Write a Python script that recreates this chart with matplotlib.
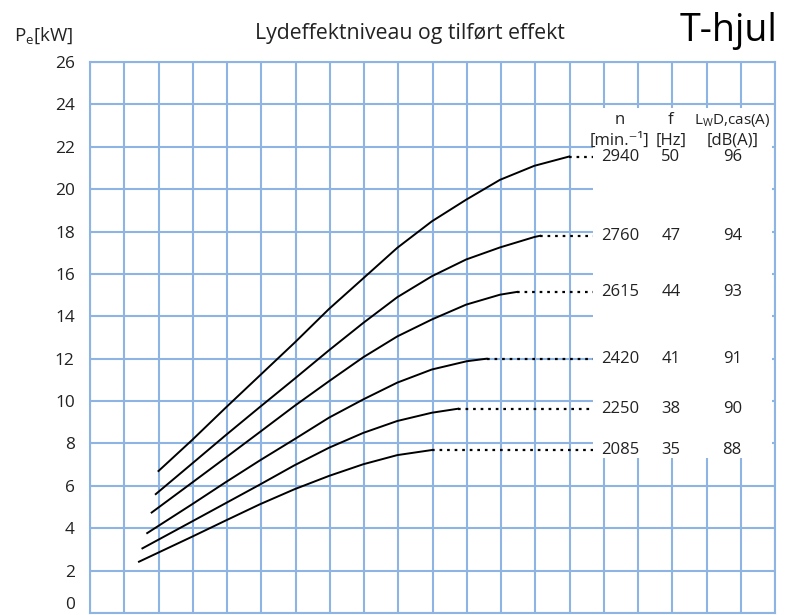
import matplotlib
matplotlib.use("Agg")
import matplotlib.pyplot as plt
from matplotlib.patches import Rectangle

plt.rcParams['font.family'] = ['Open Sans', 'DejaVu Sans']
plt.rcParams['mathtext.fontset'] = 'custom'
plt.rcParams['mathtext.rm'] = 'Open Sans'
plt.rcParams['mathtext.it'] = 'Open Sans'

# speeds, frequencies and sound power levels (table)
n_rpm = ["2940", "2760", "2615", "2420", "2250", "2085"]
f_hz = ["50", "47", "44", "41", "38", "35"]
lwd = ["96", "94", "93", "91", "90", "88"]

# curves (x in grid units, P in kW)
x_2940 = [2.00, 2.98, 3.97, 4.96, 5.97, 6.98, 7.88, 8.97, 9.98, 10.98, 11.97, 12.97, 13.99]
p_2940 = [6.70, 8.16, 9.70, 11.21, 12.75, 14.35, 15.65, 17.23, 18.48, 19.50, 20.44, 21.10, 21.54]
x_2760 = [1.92, 2.98, 3.97, 4.96, 5.97, 6.98, 7.98, 8.97, 9.98, 10.98, 11.97, 12.97, 13.14]
p_2760 = [5.61, 7.05, 8.40, 9.72, 11.05, 12.40, 13.69, 14.90, 15.89, 16.68, 17.25, 17.74, 17.80]
x_2615 = [1.80, 2.98, 3.97, 4.96, 5.97, 6.98, 7.98, 8.97, 9.98, 10.98, 11.97, 12.46]
p_2615 = [4.74, 6.15, 7.34, 8.54, 9.77, 10.94, 12.07, 13.05, 13.85, 14.55, 15.02, 15.15]
x_2420 = [1.67, 2.98, 3.97, 4.96, 5.97, 6.98, 7.98, 8.97, 9.98, 11.00, 11.58]
p_2420 = [3.77, 5.13, 6.18, 7.20, 8.20, 9.22, 10.08, 10.87, 11.49, 11.88, 12.00]
x_2250 = [1.53, 2.98, 3.97, 4.96, 5.97, 6.98, 7.98, 8.97, 9.98, 10.75]
p_2250 = [3.05, 4.32, 5.19, 6.06, 6.97, 7.80, 8.50, 9.06, 9.45, 9.64]
x_2085 = [1.43, 2.98, 3.97, 4.96, 5.97, 6.98, 7.98, 8.97, 9.98]
p_2085 = [2.42, 3.60, 4.37, 5.13, 5.84, 6.47, 7.02, 7.45, 7.69]

curves = [(x_2940, p_2940), (x_2760, p_2760), (x_2615, p_2615),
          (x_2420, p_2420), (x_2250, p_2250), (x_2085, p_2085)]

grid_col = '#8db4e2'
dot_end = 14.69

fig = plt.figure(figsize=(7.85, 6.15), dpi=100)
ax = fig.add_axes([90 / 785, 2 / 615, 685 / 785, 551 / 615])
ax.set_xlim(0, 20)
ax.set_ylim(0, 26)
ax.set_xticks(range(0, 21))
ax.set_yticks(range(0, 27, 2))
ax.set_xticklabels([])
ax.grid(True, color=grid_col, lw=1.5)
ax.set_axisbelow(True)
ax.tick_params(length=0, pad=11, labelsize=12.4, colors='#222222')
for s in ax.spines.values():
    s.set_color(grid_col)
    s.set_linewidth(1.5)
for lab in ax.get_yticklabels():
    if lab.get_text() == '0':
        lab.set_va('bottom')

for xs, ps in curves:
    ax.plot(xs, ps, color='black', lw=1.4, solid_joinstyle='round')
    ax.plot([xs[-1], dot_end], [ps[-1], ps[-1]], color='black', lw=1.6,
            linestyle=(0, (1.2, 2.2)))

# white box behind the table
ax.add_patch(Rectangle((dot_end, 7.30), 19.91 - dot_end, 23.83 - 7.30,
                       facecolor='white', edgecolor='none', zorder=2.5))

col_n, col_f, col_l = 15.47, 16.96, 18.75
tkw = dict(ha='center', va='center', fontsize=12, color='#222222', zorder=3)
ax.text(col_n, 23.25, "n", **tkw)
ax.text(col_f, 23.25, "f", **tkw)
ax.text(col_l, 23.25, r"L$_\mathrm{W}$D,cas(A)", ha='center', va='center',
        fontsize=11, color='#222222', zorder=3)
ax.text(col_n, 22.3, "[min.⁻¹]", **tkw)
ax.text(col_f, 22.3, "[Hz]", **tkw)
ax.text(col_l, 22.3, "[dB(A)]", **tkw)
for (xs, ps), n, f, l in zip(curves, n_rpm, f_hz, lwd):
    ax.text(col_n, ps[-1], n, **tkw)
    ax.text(col_f, ps[-1], f, **tkw)
    ax.text(col_l, ps[-1], l, **tkw)

fig.text(410 / 785, 1 - 33 / 615, "Lydeffektniveau og tilført effekt",
         ha='center', va='center', fontsize=15.3, color='#222222')
fig.text(777 / 785, 1 - 41 / 615, "T-hjul", ha='right', va='baseline',
         fontsize=27, color='black')
fig.text(14 / 785, 1 - 41 / 615, r"P$_\mathrm{e}$[kW]", ha='left', va='baseline',
         fontsize=13.5, color='#222222')

fig.savefig("out.png", dpi=100)
